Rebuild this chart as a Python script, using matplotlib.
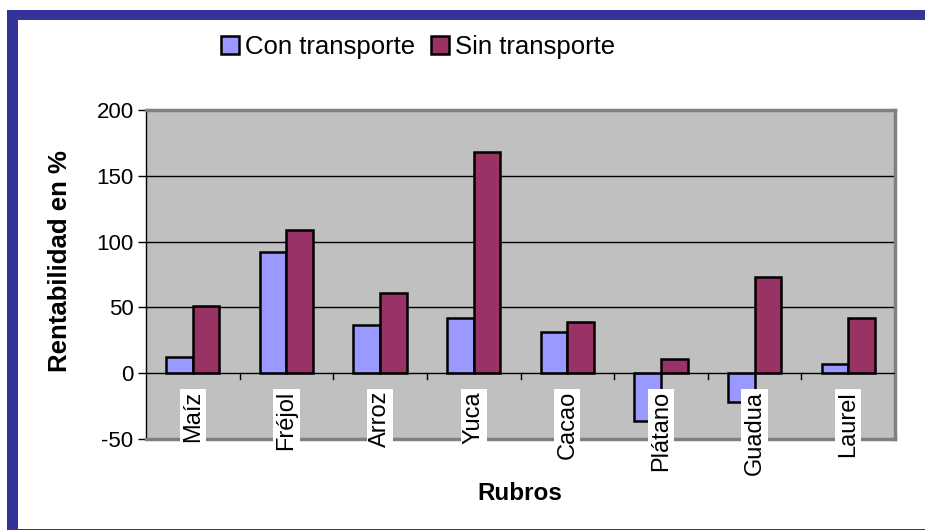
import numpy as np
import matplotlib.pyplot as plt
from matplotlib.patches import Rectangle

plt.rcParams['font.family'] = ['Liberation Sans', 'DejaVu Sans']

rubros = ['Maíz', 'Fréjol', 'Arroz', 'Yuca', 'Cacao', 'Plátano', 'Guadua', 'Laurel']
con_transporte = [12, 92, 37, 42, 31, -36, -22, 7]
sin_transporte = [51, 109, 61, 168, 39, 11, 73, 42]
yticks = [-50, 0, 50, 100, 150, 200]

fig = plt.figure(figsize=(9.25, 5.3), dpi=100)

# marco azul
fig.patches.append(Rectangle((7/925, 0), 11/925, 520/530, transform=fig.transFigure,
                             facecolor='#333399', edgecolor='none'))
fig.patches.append(Rectangle((7/925, 1-20/530), 918/925, 10/530, transform=fig.transFigure,
                             facecolor='#333399', edgecolor='none'))
fig.patches.append(Rectangle((7/925, 0), 918/925, 1.5/530, transform=fig.transFigure,
                             facecolor='#333399', edgecolor='none'))

ax = fig.add_axes([146/925, 1-439/530, (895-146)/925, (439-110)/530])
ax.set_facecolor('#C0C0C0')

x = np.arange(len(rubros))
w = 0.285
b1 = ax.bar(x - w/2, con_transporte, w, color='#9999FF', edgecolor='black', linewidth=1.8,
            label='Con transporte', zorder=3)
b2 = ax.bar(x + w/2, sin_transporte, w, color='#993366', edgecolor='black', linewidth=1.8,
            label='Sin transporte', zorder=3)

ax.set_xlim(-0.5, len(rubros) - 0.5)
ax.set_ylim(-50, 200)
ax.set_yticks(yticks)
ax.set_yticklabels([str(v) for v in yticks], fontsize=16)
ax.tick_params(axis='y', direction='out', length=6, width=1, pad=3)
ax.set_xticks([])

for v in [50, 100, 150, 200]:
    ax.axhline(v, color='black', linewidth=1, zorder=1)
ax.axhline(0, color='black', linewidth=1, zorder=4)

# marcas de categoria sobre la linea de cero
for k in range(1, len(rubros)):
    ax.plot([k - 0.5, k - 0.5], [0, -4.5], color='black', linewidth=1, zorder=4)

for i, name in enumerate(rubros):
    ax.text(i, -13.5, name, rotation=90, ha='center', va='top', fontsize=17, zorder=5,
            bbox=dict(facecolor='white', edgecolor='none', pad=1.5), clip_on=False)

for s in ['top', 'right', 'bottom']:
    ax.spines[s].set_color('#808080')
    ax.spines[s].set_linewidth(2.5)
ax.spines['left'].set_color('black')
ax.spines['left'].set_linewidth(1)

fig.text(60/925, 1-261/530, 'Rentabilidad en %', rotation=90, fontsize=18.5,
         fontweight='bold', ha='center', va='center')
fig.text(520/925, 1-494/530, 'Rubros', fontsize=17.5, fontweight='bold', ha='center', va='center')

fig.legend(handles=[b1, b2], loc='center', bbox_to_anchor=(418/925, 1-47/530), ncol=2,
           frameon=False, fontsize=18.5, handlelength=0.7, handleheight=0.7,
           handletextpad=0.25, columnspacing=0.6)

plt.savefig('out.png', dpi=100)
